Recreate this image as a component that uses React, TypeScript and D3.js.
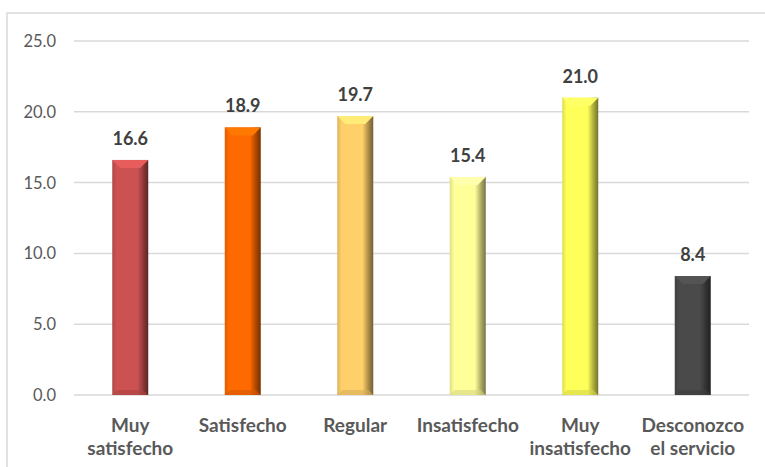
import React from "react";
import * as d3 from "d3";

const categories = ["Muy satisfecho", "Satisfecho", "Regular", "Insatisfecho", "Muy insatisfecho", "Desconozco el servicio"];
const categoryLines = [["Muy", "satisfecho"], ["Satisfecho"], ["Regular"], ["Insatisfecho"], ["Muy", "insatisfecho"], ["Desconozco", "el servicio"]];
const values = [16.6, 18.9, 19.7, 15.4, 21.0, 8.4];
const barColors = ["#CC5252", "#FF6A00", "#FFCF6A", "#FFFF99", "#FFFF5A", "#4A4A4A"];
const yTicks = [0, 5, 10, 15, 20, 25];

export default function App() {
  const W = 765, H = 467;
  const x = d3.scaleBand().domain(categories).range([74, 749]).paddingInner(0.68).paddingOuter(0.34);
  const y = d3.scaleLinear().domain([0, 25]).range([395, 41]);
  const bw = x.bandwidth();
  const font = "Lato, 'Open Sans', sans-serif";
  return (
    <svg width={W} height={H} style={{ position: "absolute", left: 0, top: 0 }}>
      <defs>
        {barColors.map((c, i) => {
          const base = d3.color(c)!;
          return (
            <linearGradient key={i} id={`g${i}`} x1="0" x2="1" y1="0" y2="0">
              <stop offset="0" stopColor={base.darker(0.4).toString()} />
              <stop offset="0.12" stopColor={c} />
              <stop offset="0.7" stopColor={c} />
              <stop offset="0.88" stopColor={base.darker(1.2).toString()} />
              <stop offset="1" stopColor={base.darker(2.2).toString()} />
            </linearGradient>
          );
        })}
      </defs>
      <rect x={7} y={13} width={W} height={H} fill="white" stroke="#D9D9D9" strokeWidth={1.5} />
      {yTicks.map(t => (
        <g key={t}>
          <line x1={74} x2={749} y1={y(t)} y2={y(t)} stroke="#D9D9D9" strokeWidth={1.5} />
          <text x={56} y={y(t) + 6} textAnchor="end" fontFamily={font} fontSize={16.5} fill="#595959">{t.toFixed(1)}</text>
        </g>
      ))}
      {categories.map((c, i) => {
        const x0 = x(c)!;
        const y0 = y(values[i]);
        const h = y(0) - y0;
        const bev = 8;
        const base = d3.color(barColors[i])!;
        return (
          <g key={c}>
            <rect x={x0} y={y0} width={bw} height={h} fill={`url(#g${i})`} />
            <polygon points={`${x0},${y0} ${x0 + bw},${y0} ${x0 + bw - bev},${y0 + bev} ${x0 + bev},${y0 + bev}`} fill={base.brighter(0.35).toString()} />
            <polygon points={`${x0},${y(0)} ${x0 + bw},${y(0)} ${x0 + bw - 5},${y(0) - 5} ${x0 + 5},${y(0) - 5}`} fill={base.darker(0.5).toString()} opacity={0.6} />
            <text x={x0 + bw / 2} y={y0 - 15} textAnchor="middle" fontFamily={font} fontWeight="bold" fontSize={18} fill="#404040">{values[i].toFixed(1)}</text>
            {categoryLines[i].map((l, k) => (
              <text key={k} x={x0 + bw / 2} y={432 + k * 23} textAnchor="middle" fontFamily={font} fontWeight="bold" fontSize={19} fill="#595959">{l}</text>
            ))}
          </g>
        );
      })}
    </svg>
  );
}
